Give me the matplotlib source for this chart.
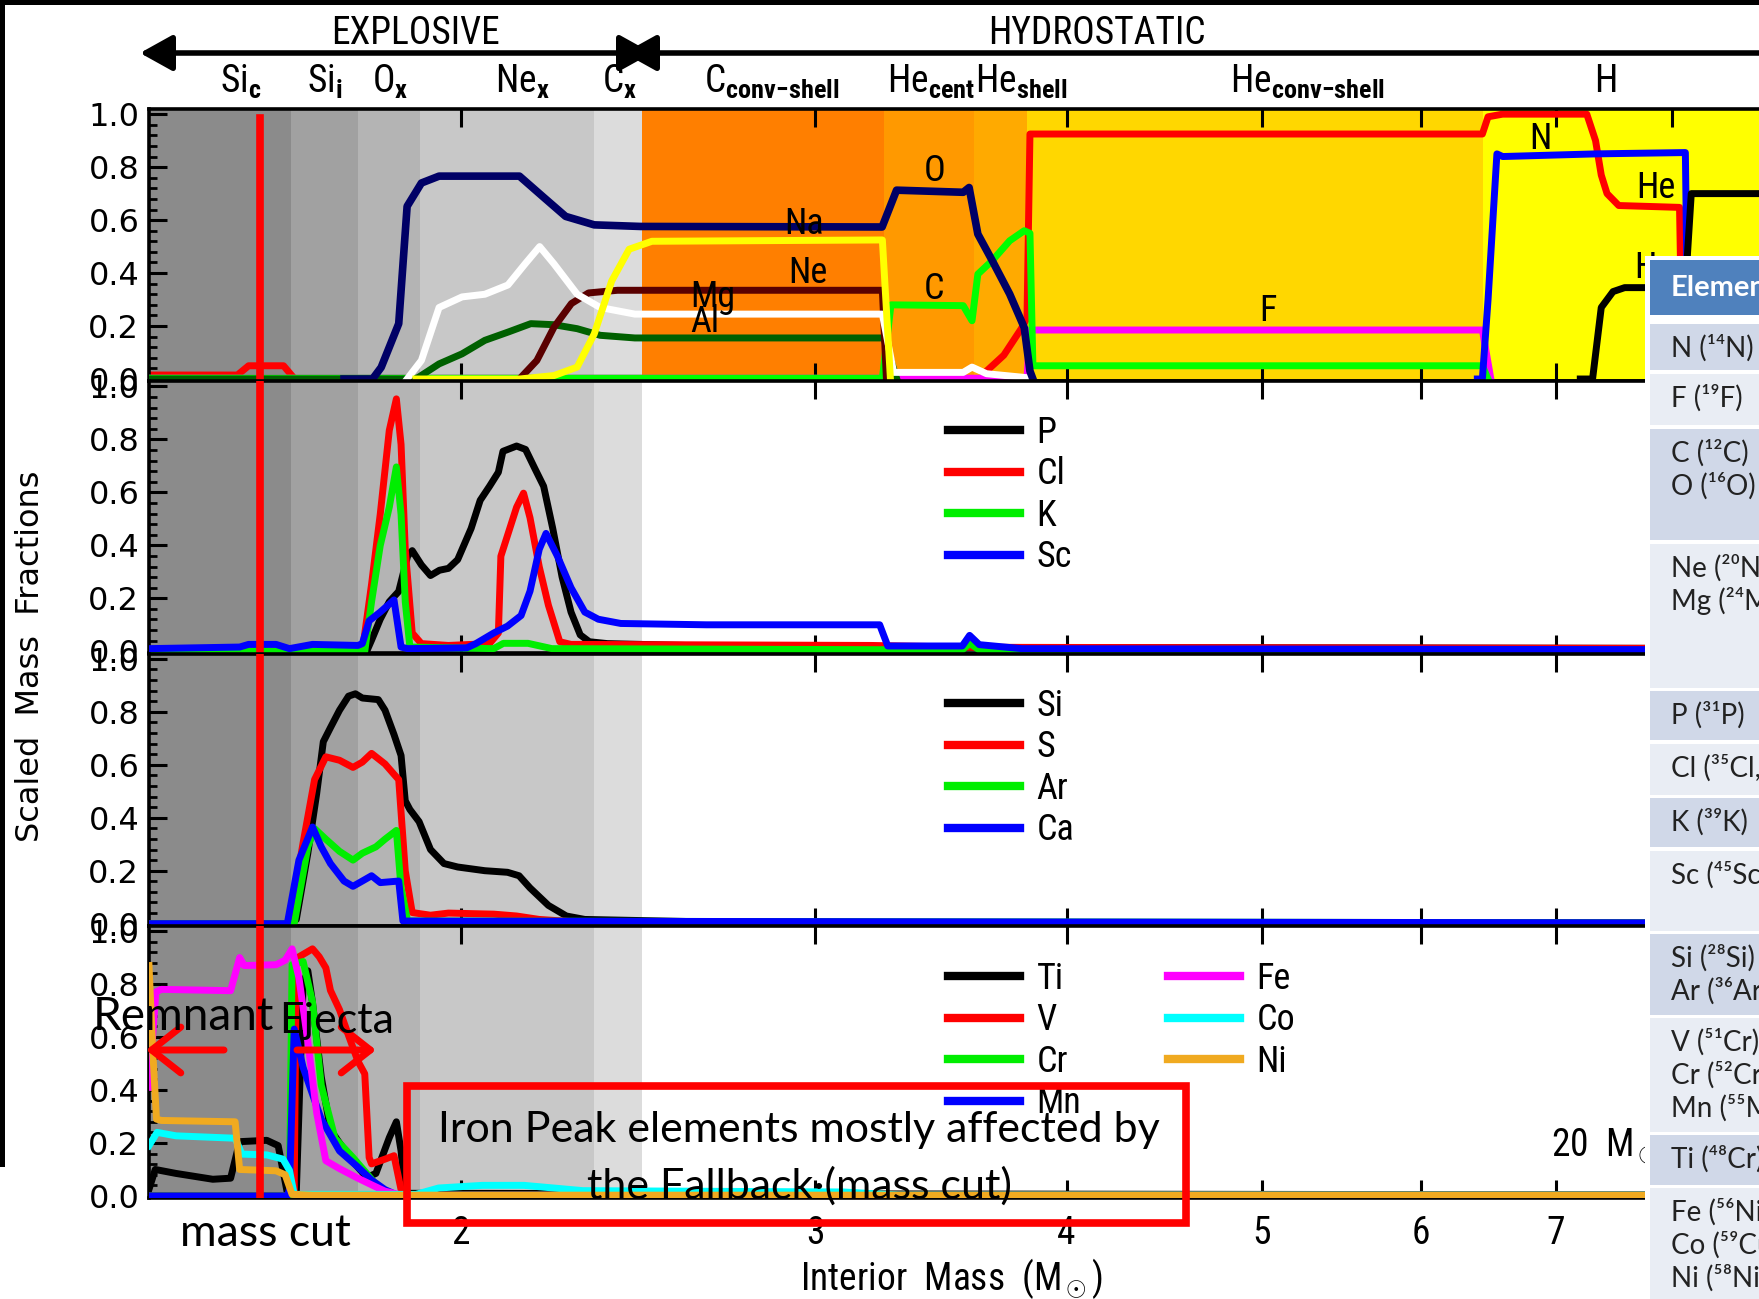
import numpy as np
import matplotlib
matplotlib.use("Agg")
import matplotlib.pyplot as plt
import matplotlib.transforms as mtrans
from matplotlib import font_manager
from matplotlib.patches import Rectangle, FancyArrowPatch
from matplotlib.ticker import FixedLocator, MultipleLocator, NullLocator, FuncFormatter

W, H = 1759, 1299

# pick a condensed face for the IDL-style labels, whatever is installed
ttf = font_manager.fontManager.ttflist
names = {f.name for f in ttf}
if "Liberation Sans Narrow" in names:
    NF = {"family": "Liberation Sans Narrow"}
    NPAT = "Liberation Sans Narrow"
elif "Roboto Condensed" in names:
    NF = {"family": "Roboto Condensed"}
    NPAT = "Roboto Condensed"
elif any(f.name == "DejaVu Sans" and f.stretch == "condensed" for f in ttf):
    NF = {"family": "DejaVu Sans", "stretch": "condensed"}
    NPAT = "DejaVu Sans:condensed"
else:
    NF = {"family": "Liberation Sans"}
    NPAT = "Liberation Sans"
ROUND = "DejaVu Sans"
GILL = "Lato"

plt.rcParams["mathtext.fontset"] = "custom"
plt.rcParams["mathtext.rm"] = NPAT
plt.rcParams["mathtext.bf"] = NPAT + ":bold"
plt.rcParams["mathtext.it"] = NPAT

# ---- data -------------------------------------------------------------
mass_ticks = [2, 3, 4, 5, 6, 7, 8, 9]
mass_cut = 1.589

zone_labels = ["Si$_\\mathbf{c}$", "Si$_\\mathbf{i}$", "O$_\\mathbf{x}$", "Ne$_\\mathbf{x}$", "C$_\\mathbf{x}$",
               "C$_\\mathbf{conv{-}shell}$", "He$_\\mathbf{cent}$", "He$_\\mathbf{shell}$",
               "He$_\\mathbf{conv{-}shell}$", "H"]
zone_label_mass = [1.555, 1.712, 1.844, 2.145, 2.400, 2.856, 3.425, 3.797, 5.267, 7.415]
zone_edges = [1.40, 1.647, 1.778, 1.910, 2.33, 2.46, 3.245, 3.60, 3.823, 6.44, 10.0]

# panel 1 (light elements)
o_m = [1.75, 1.808, 1.826, 1.863, 1.881, 1.912, 1.951, 2.139, 2.196, 2.255, 2.330, 2.457, 3.239, 3.293,
       3.554, 3.578, 3.614, 3.674, 3.748, 3.811, 3.836, 3.849]
o_y = [0.0, 0.0, 0.044, 0.209, 0.652, 0.74, 0.766, 0.766, 0.69, 0.614, 0.582, 0.576, 0.574, 0.713,
       0.705, 0.723, 0.547, 0.447, 0.321, 0.194, 0.03, 0.0]
na_m = [1.881, 1.912, 1.951, 2.003, 2.056, 2.111, 2.153, 2.189, 2.225, 2.285, 2.346, 2.441, 3.240, 3.282,
        3.554, 3.590, 3.650, 3.823]
na_y = [0.0, 0.07, 0.27, 0.31, 0.32, 0.355, 0.435, 0.50, 0.435, 0.32, 0.27, 0.245, 0.245, 0.025,
        0.025, 0.045, 0.02, 0.005]
al_m = [1.40, 1.900, 1.951, 2.003, 2.056, 2.111, 2.167, 2.225, 2.285, 2.346, 2.441, 3.245, 3.294]
al_y = [0.0, 0.0, 0.057, 0.095, 0.146, 0.177, 0.209, 0.205, 0.19, 0.165, 0.155, 0.155, 0.0]
mg_m = [2.139, 2.182, 2.225, 2.270, 2.315, 2.393, 3.240, 3.255]
mg_y = [0.0, 0.07, 0.195, 0.285, 0.325, 0.335, 0.335, 0.0]
ne_m = [1.90, 2.139, 2.225, 2.285, 2.330, 2.377, 2.425, 2.489, 3.240, 3.27]
ne_y = [0.0, 0.0, 0.013, 0.045, 0.17, 0.37, 0.49, 0.52, 0.525, 0.0]
c_m = [1.40, 3.240, 3.272, 3.554, 3.590, 3.614, 3.674, 3.748, 3.811, 3.836, 3.849, 6.437, 6.479]
c_y = [0.003, 0.003, 0.28, 0.277, 0.22, 0.396, 0.447, 0.522, 0.56, 0.55, 0.05, 0.05, 0.0]
f_m = [1.40, 3.823, 3.836, 6.437, 6.50]
f_y = [0.003, 0.003, 0.185, 0.185, 0.0]
n_m = [1.40, 1.549, 1.569, 1.633, 1.654, 3.626, 3.650, 3.723, 3.798, 3.823, 3.836, 6.437, 6.479, 6.588,
       7.254, 7.327, 7.375, 7.424, 7.524, 8.066, 8.093]
n_y = [0.015, 0.015, 0.05, 0.05, 0.0, 0.0, 0.03, 0.09, 0.19, 0.23, 0.925, 0.925, 0.99, 1.0,
       1.0, 0.90, 0.77, 0.70, 0.655, 0.648, 0.0]
he_m = [6.40, 6.437, 6.479, 6.545, 6.588, 7.327, 8.120, 8.147]
he_y = [0.0, 0.0, 0.30, 0.85, 0.84, 0.85, 0.855, 0.0]
h_m = [7.20, 7.302, 7.375, 7.475, 7.575, 8.120, 8.175, 10.0]
h_y = [0.0, 0.0, 0.27, 0.33, 0.345, 0.345, 0.70, 0.70]

# panel 2
p_m = [1.40, 1.796, 1.806, 1.824, 1.843, 1.863, 1.882, 1.892, 1.912, 1.932, 1.952, 1.972, 1.993, 2.024,
       2.045, 2.067, 2.088, 2.099, 2.132, 2.154, 2.177, 2.199, 2.222, 2.246, 2.269, 2.293, 2.317, 2.365,
       2.65, 3.3, 10.0]
p_y = [0.0, 0.0, 0.042, 0.121, 0.187, 0.226, 0.359, 0.38, 0.326, 0.286, 0.306, 0.313, 0.346, 0.464,
       0.57, 0.623, 0.676, 0.755, 0.775, 0.762, 0.69, 0.623, 0.464, 0.28, 0.148, 0.062, 0.036, 0.029,
       0.02, 0.015, 0.01]
cl_m = [1.40, 1.787, 1.806, 1.824, 1.843, 1.858, 1.868, 1.877, 1.892, 1.912, 1.972, 2.067, 2.088, 2.094,
        2.121, 2.132, 2.149, 2.165, 2.188, 2.211, 2.240, 2.269, 3.2, 3.6, 10.0]
cl_y = [0.0, 0.0, 0.253, 0.517, 0.834, 0.953, 0.781, 0.385, 0.069, 0.029, 0.022, 0.029, 0.069, 0.359,
        0.491, 0.544, 0.597, 0.504, 0.319, 0.174, 0.036, 0.026, 0.022, 0.015, 0.01]
k_m = [1.40, 1.792, 1.806, 1.824, 1.843, 1.858, 1.868, 1.877, 1.887, 2.077, 2.10, 2.16, 2.22, 3.55, 3.58,
       3.62, 10.0]
k_y = [0.0, 0.0, 0.187, 0.399, 0.544, 0.696, 0.517, 0.187, 0.016, 0.01, 0.03, 0.03, 0.01, 0.005, 0.03,
       0.005, 0.003]
sc_m = [1.40, 1.553, 1.569, 1.619, 1.644, 1.688, 1.778, 1.787, 1.801, 1.824, 1.853, 1.868, 1.882, 2.014,
        2.035, 2.077, 2.110, 2.143, 2.165, 2.188, 2.205, 2.234, 2.269, 2.305, 2.341, 2.402, 2.649, 3.23,
        3.26, 3.55, 3.58, 3.62, 3.80, 10.0]
sc_y = [0.01, 0.016, 0.026, 0.026, 0.01, 0.026, 0.022, 0.029, 0.115, 0.148, 0.194, 0.016, 0.01, 0.013,
        0.029, 0.069, 0.095, 0.135, 0.227, 0.385, 0.445, 0.359, 0.24, 0.148, 0.121, 0.105, 0.10, 0.10,
        0.02, 0.02, 0.06, 0.025, 0.01, 0.005]

# panel 3
si_m = [1.40, 1.644, 1.657, 1.679, 1.696, 1.709, 1.723, 1.741, 1.759, 1.773, 1.787, 1.820, 1.834, 1.853,
        1.868, 1.877, 1.887, 1.907, 1.932, 1.962, 1.993, 2.056, 2.110, 2.138, 2.165, 2.211, 2.257, 2.305,
        2.6, 3.3, 10.0]
si_y = [0.0, 0.0, 0.016, 0.266, 0.49, 0.687, 0.74, 0.806, 0.859, 0.868, 0.852, 0.846, 0.806, 0.714,
        0.635, 0.464, 0.431, 0.385, 0.28, 0.227, 0.214, 0.20, 0.194, 0.181, 0.135, 0.069, 0.029, 0.016,
        0.008, 0.004, 0.002]
s_m = [1.40, 1.644, 1.670, 1.692, 1.714, 1.741, 1.768, 1.787, 1.806, 1.834, 1.853, 1.863, 1.877, 1.892,
       1.932, 1.972, 2.077, 2.132, 2.188, 2.30, 10.0]
s_y = [0.0, 0.0, 0.306, 0.544, 0.63, 0.617, 0.59, 0.61, 0.643, 0.603, 0.564, 0.544, 0.20, 0.042,
       0.032, 0.04, 0.036, 0.029, 0.016, 0.005, 0.002]
ar_m = [1.40, 1.653, 1.679, 1.692, 1.714, 1.741, 1.768, 1.787, 1.815, 1.834, 1.858, 1.868, 1.882, 10.0]
ar_y = [0.0, 0.0, 0.29, 0.359, 0.319, 0.273, 0.24, 0.266, 0.29, 0.319, 0.352, 0.135, 0.01, 0.002]
ca_m = [1.40, 1.640, 1.662, 1.688, 1.705, 1.723, 1.750, 1.768, 1.787, 1.806, 1.824, 1.863, 1.872, 10.0]
ca_y = [0.0, 0.0, 0.24, 0.365, 0.29, 0.227, 0.161, 0.141, 0.161, 0.181, 0.155, 0.161, 0.01, 0.002]

# panel 4 (iron peak)
ti_m = [1.40, 1.41, 1.444, 1.506, 1.537, 1.553, 1.602, 1.623, 1.640, 1.657, 1.670, 1.679, 1.688, 1.705,
        1.723, 1.741, 1.768, 1.796, 1.815, 1.843, 1.858, 1.868, 1.877, 10.0]
ti_y = [0.025, 0.10, 0.085, 0.063, 0.067, 0.205, 0.21, 0.19, 0.012, 0.012, 0.80, 0.85, 0.73, 0.45,
        0.25, 0.20, 0.13, 0.07, 0.085, 0.22, 0.28, 0.17, 0.01, 0.003]
v_m = [1.40, 1.653, 1.657, 1.688, 1.701, 1.714, 1.723, 1.741, 1.759, 1.778, 1.792, 1.801, 1.806, 1.834,
       1.853, 1.868, 1.872, 10.0]
v_y = [0.0, 0.0, 0.897, 0.933, 0.903, 0.861, 0.776, 0.703, 0.606, 0.509, 0.461, 0.145, 0.121, 0.139,
       0.152, 0.024, 0.003, 0.003]
cr_m = [1.40, 1.644, 1.649, 1.670, 1.688, 1.705, 1.732, 1.768, 1.796, 1.824, 1.85, 10.0]
cr_y = [0.0, 0.0, 0.873, 0.885, 0.733, 0.418, 0.218, 0.145, 0.085, 0.024, 0.003, 0.003]
mn_m = [1.40, 1.640, 1.644, 1.653, 1.670, 1.705, 1.741, 1.778, 1.806, 1.834, 1.86, 10.0]
mn_y = [0.0, 0.0, 0.024, 0.63, 0.485, 0.29, 0.17, 0.109, 0.06, 0.024, 0.003, 0.003]
fe_m = [1.40, 1.411, 1.42, 1.537, 1.553, 1.561, 1.619, 1.636, 1.649, 1.662, 1.679, 1.696, 1.714, 1.741,
        1.778, 1.806, 1.834, 1.872, 10.0]
fe_y = [0.41, 0.77, 0.78, 0.775, 0.90, 0.87, 0.873, 0.89, 0.933, 0.824, 0.582, 0.315, 0.133, 0.103,
        0.067, 0.042, 0.018, 0.002, 0.002]
co_m = [1.40, 1.413, 1.444, 1.521, 1.545, 1.557, 1.602, 1.632, 1.644, 1.653, 1.90, 1.95, 2.05, 2.15,
        2.3, 3.1, 3.3, 10.0]
co_y = [0.19, 0.24, 0.227, 0.22, 0.218, 0.158, 0.155, 0.139, 0.097, 0.006, 0.006, 0.03, 0.04, 0.04,
        0.02, 0.015, 0.003, 0.003]
ni_m = [1.40, 1.406, 1.412, 1.42, 1.545, 1.553, 1.619, 1.636, 1.649, 1.688, 10.0]
ni_y = [0.87, 0.55, 0.29, 0.285, 0.28, 0.10, 0.095, 0.08, 0.006, 0.003, 0.003]

table_header = "Element"
table_rows = ["N (¹⁴N)", "F (¹⁹F)", "C (¹²C)\nO (¹⁶O)", "Ne (²⁰Ne)\nMg (²⁴Mg)", "P (³¹P)",
              "Cl (³⁵Cl, ³⁷Cl)", "K (³⁹K)", "Sc (⁴⁵Sc)", "Si (²⁸Si)\nAr (³⁶Ar)",
              "V (⁵¹Cr)\nCr (⁵²Cr)\nMn (⁵⁵Mn)", "Ti (⁴⁸Cr)", "Fe (⁵⁶Ni)\nCo (⁵⁹Cu)\nNi (⁵⁸Ni, ⁶⁰Ni)"]

# ---- figure -----------------------------------------------------------
fig = plt.figure(figsize=(W / 100, H / 100), dpi=100)


def fx(px):
    return px / W


def fy(py):
    return 1 - py / H


zone_cols = ["#8b8b8b", "#a1a1a1", "#b4b4b4", "#c8c8c8", "#dcdcdc",
             "#ff7f00", "#ff9900", "#ffaa00", "#ffd700", "#ffff00"]

ax_w = 874 * np.log(10.0 / 1.40) / W
pan_h = 0.2096
bottoms = [0.7066, 0.4970, 0.2873, 0.0777]
axes = []
for i, b in enumerate(bottoms):
    ax = fig.add_axes([fx(149), b, ax_w, pan_h])
    ax.set_xscale("log")
    ax.set_xlim(1.40, 10.0)
    ax.set_ylim(-0.008, 1.02)
    nz = 10 if i == 0 else 5
    for j in range(nz):
        ax.axvspan(zone_edges[j], zone_edges[j + 1], color=zone_cols[j], lw=0, zorder=0)
    ax.xaxis.set_major_locator(FixedLocator(mass_ticks))
    ax.xaxis.set_minor_locator(NullLocator())
    ax.xaxis.set_major_formatter(FuncFormatter(lambda v, p: "%d" % v))
    ax.yaxis.set_major_locator(MultipleLocator(0.2))
    ax.yaxis.set_minor_locator(MultipleLocator(0.04))
    ax.yaxis.set_major_formatter(FuncFormatter(lambda v, p: "%.1f" % abs(v)))
    ax.tick_params(axis="x", which="major", direction="in", top=True, bottom=True, length=13, width=2.2,
                   labelbottom=(i == 3), labelsize=27, pad=12)
    ax.tick_params(axis="y", which="major", direction="in", left=True, right=False, length=13, width=2.2,
                   labelsize=23, pad=7)
    ax.tick_params(axis="y", which="minor", direction="in", left=True, right=False, length=6, width=2)
    for lbl in ax.get_xticklabels():
        lbl.set(**NF)
    for lbl in ax.get_yticklabels():
        lbl.set_family(ROUND)
    for s in ax.spines.values():
        s.set_linewidth(2.6)
    ax.axvline(mass_cut, ymin=0, ymax=(0.967 if i == 0 else 1.0), color="#ff0000", lw=5.5, zorder=8)
    axes.append(ax)

ax1, ax2, ax3, ax4 = axes
LW = 5

# panel 1
ax1.plot(n_m, n_y, color="#ff0000", lw=LW, zorder=2)
ax1.plot(f_m, f_y, color="#ff00ff", lw=LW, zorder=3)
ax1.plot(c_m, c_y, color="#00ff00", lw=LW, zorder=3)
ax1.plot(al_m, al_y, color="#006000", lw=LW, zorder=3)
ax1.plot(mg_m, mg_y, color="#5a0000", lw=LW, zorder=3)
ax1.plot(na_m, na_y, color="#ffffff", lw=LW, zorder=3)
ax1.plot(ne_m, ne_y, color="#ffff00", lw=LW, zorder=4)
ax1.plot(o_m, o_y, color="#000066", lw=LW + 0.5, zorder=4)
ax1.plot(he_m, he_y, color="#0000ff", lw=LW, zorder=4)
ax1.plot(h_m, h_y, color="#000000", lw=LW, zorder=4)
for txt, m, v in [("Na", 2.962, 0.585), ("Ne", 2.975, 0.40), ("Mg", 2.668, 0.31), ("Al", 2.645, 0.215),
                  ("O", 3.438, 0.786), ("C", 3.438, 0.34), ("F", 5.036, 0.258), ("N", 6.879, 0.906),
                  ("He", 7.855, 0.723), ("H", 7.754, 0.42)]:
    ax1.text(m, v, txt, fontsize=26, ha="center", va="center", zorder=6, **NF)

# panels 2-4
legend_kw = dict(loc="upper left", bbox_transform=fig.transFigure, frameon=False,
                 prop=dict(size=26, **NF), handlelength=2.0, handletextpad=0.45,
                 labelspacing=0.15, borderpad=0, borderaxespad=0)

for m, y, col, lab in [(p_m, p_y, "#000000", "P"), (cl_m, cl_y, "#ff0000", "Cl"),
                       (k_m, k_y, "#00ee00", "K"), (sc_m, sc_y, "#0000ff", "Sc")]:
    ax2.plot(m, y, color=col, lw=LW, label=lab, zorder=3)
leg = ax2.legend(bbox_to_anchor=(fx(948), fy(415)), **legend_kw)
for l in leg.get_lines():
    l.set_linewidth(6)

for m, y, col, lab in [(si_m, si_y, "#000000", "Si"), (s_m, s_y, "#ff0000", "S"),
                       (ar_m, ar_y, "#00ee00", "Ar"), (ca_m, ca_y, "#0000ff", "Ca")]:
    ax3.plot(m, y, color=col, lw=LW, label=lab, zorder=3)
leg = ax3.legend(bbox_to_anchor=(fx(948), fy(688)), **legend_kw)
for l in leg.get_lines():
    l.set_linewidth(6)

for m, y, col, lab in [(ti_m, ti_y, "#000000", "Ti"), (v_m, v_y, "#ff0000", "V"),
                       (cr_m, cr_y, "#00ee00", "Cr"), (mn_m, mn_y, "#0000ff", "Mn"),
                       (fe_m, fe_y, "#ff00ff", "Fe"), (co_m, co_y, "#00ffff", "Co"),
                       (ni_m, ni_y, "#f0aa20", "Ni")]:
    ax4.plot(m, y, color=col, lw=LW, label=lab, zorder=3)
leg = ax4.legend(bbox_to_anchor=(fx(948), fy(961)), ncol=2, columnspacing=2.4, **legend_kw)
for l in leg.get_lines():
    l.set_linewidth(6)

# ---- header arrows and zone labels ------------------------------------
arrow_y = fy(53)
for a, b in [(140, 652), (624, 1800)]:
    fig.add_artist(FancyArrowPatch((fx(a), arrow_y), (fx(b), arrow_y), transform=fig.transFigure,
                                   arrowstyle="<|-|>,head_length=0.9,head_width=0.5", mutation_scale=22,
                                   lw=4, color="black", shrinkA=0, shrinkB=0))
fig.text(fx(415), fy(34), "EXPLOSIVE", fontsize=27, ha="center", va="center", **NF)
fig.text(fx(1097), fy(34), "HYDROSTATIC", fontsize=27, ha="center", va="center", **NF)
top_tr = mtrans.blended_transform_factory(ax1.transData, fig.transFigure)
for lab, m in zip(zone_labels, zone_label_mass):
    ax1.text(m, fy(82), lab, transform=top_tr, fontsize=27, ha="center", va="center",
             clip_on=False, **NF)

# ---- axis titles ------------------------------------------------------
fig.text(fx(31), fy(656), "Scaled  Mass  Fractions", family=ROUND, fontsize=23, rotation=90,
         ha="center", va="center")
fig.text(fx(951), fy(1279), "Interior  Mass  (M$_\\odot$)", fontsize=27,
         ha="center", va="center", **NF)
fig.text(fx(1551), fy(1146), "20  M$_\\odot$", fontsize=27, ha="left", va="center", **NF)

# ---- annotations ------------------------------------------------------
fig.text(fx(183), fy(1017), "Remnant", family=GILL, fontsize=33, ha="center", va="center")
fig.text(fx(337), fy(1021), "Ejecta", family=GILL, fontsize=31, ha="center", va="center")
for a, b in [(224, 146), (297, 376)]:
    fig.add_artist(FancyArrowPatch((fx(a), fy(1050)), (fx(b), fy(1050)), transform=fig.transFigure,
                                   arrowstyle="->,head_length=0.7,head_width=0.55", mutation_scale=30,
                                   lw=5, color="#ff0000", shrinkA=0, shrinkB=0))
fig.text(fx(265), fy(1234), "mass cut", family=GILL, fontsize=32, ha="center", va="center")
fig.add_artist(Rectangle((fx(407), fy(1223)), fx(1186) - fx(407), fy(1086) - fy(1223),
                         transform=fig.transFigure, fill=False, ec="#ff0000", lw=5.5))
fig.text(fx(799), fy(1130), "Iron Peak elements mostly affected by", family=GILL, fontsize=31,
         ha="center", va="center")
fig.text(fx(799), fy(1186), "the Fallback·(mass cut)", family=GILL, fontsize=31,
         ha="center", va="center")

# ---- element table on the right ---------------------------------------
row_spans = [(324, 370), (374, 425), (429, 540), (544, 688), (691, 740), (744, 795), (798, 847),
             (851, 931), (934, 1015), (1018, 1132), (1135, 1185), (1188, 1299)]
fig.add_artist(Rectangle((fx(1645), 0), 1 - fx(1645), fy(256), transform=fig.transFigure,
                         fc="white", ec="none", zorder=10))
fig.add_artist(Rectangle((fx(1650), fy(315)), 1, fy(260) - fy(315), transform=fig.transFigure,
                         fc="#4f81bd", ec="none", zorder=10))
fig.text(fx(1671), fy(288), table_header, family=[GILL, "DejaVu Sans"], fontsize=21,
         fontweight="bold", color="white", ha="left", va="center", zorder=11)
for k, (txt, (t, b)) in enumerate(zip(table_rows, row_spans)):
    col = "#d0d8e8" if k % 2 == 0 else "#e9edf4"
    fig.add_artist(Rectangle((fx(1650), fy(b)), 1, fy(t) - fy(b), transform=fig.transFigure,
                             fc=col, ec="none", zorder=10))
    for j, line in enumerate(txt.split("\n")):
        fig.text(fx(1671), fy(t + 24 + 33 * j), line, family=[GILL, "DejaVu Sans"], fontsize=20,
                 color="#222222", ha="left", va="center", zorder=11)

# black screenshot border at top and left
fig.add_artist(Rectangle((0, fy(5)), 1, fy(0) - fy(5), transform=fig.transFigure, fc="black",
                         ec="none", zorder=12))
fig.add_artist(Rectangle((0, fy(1167)), fx(5), fy(0) - fy(1167), transform=fig.transFigure,
                         fc="black", ec="none", zorder=12))

fig.savefig("out.png", dpi=100)
